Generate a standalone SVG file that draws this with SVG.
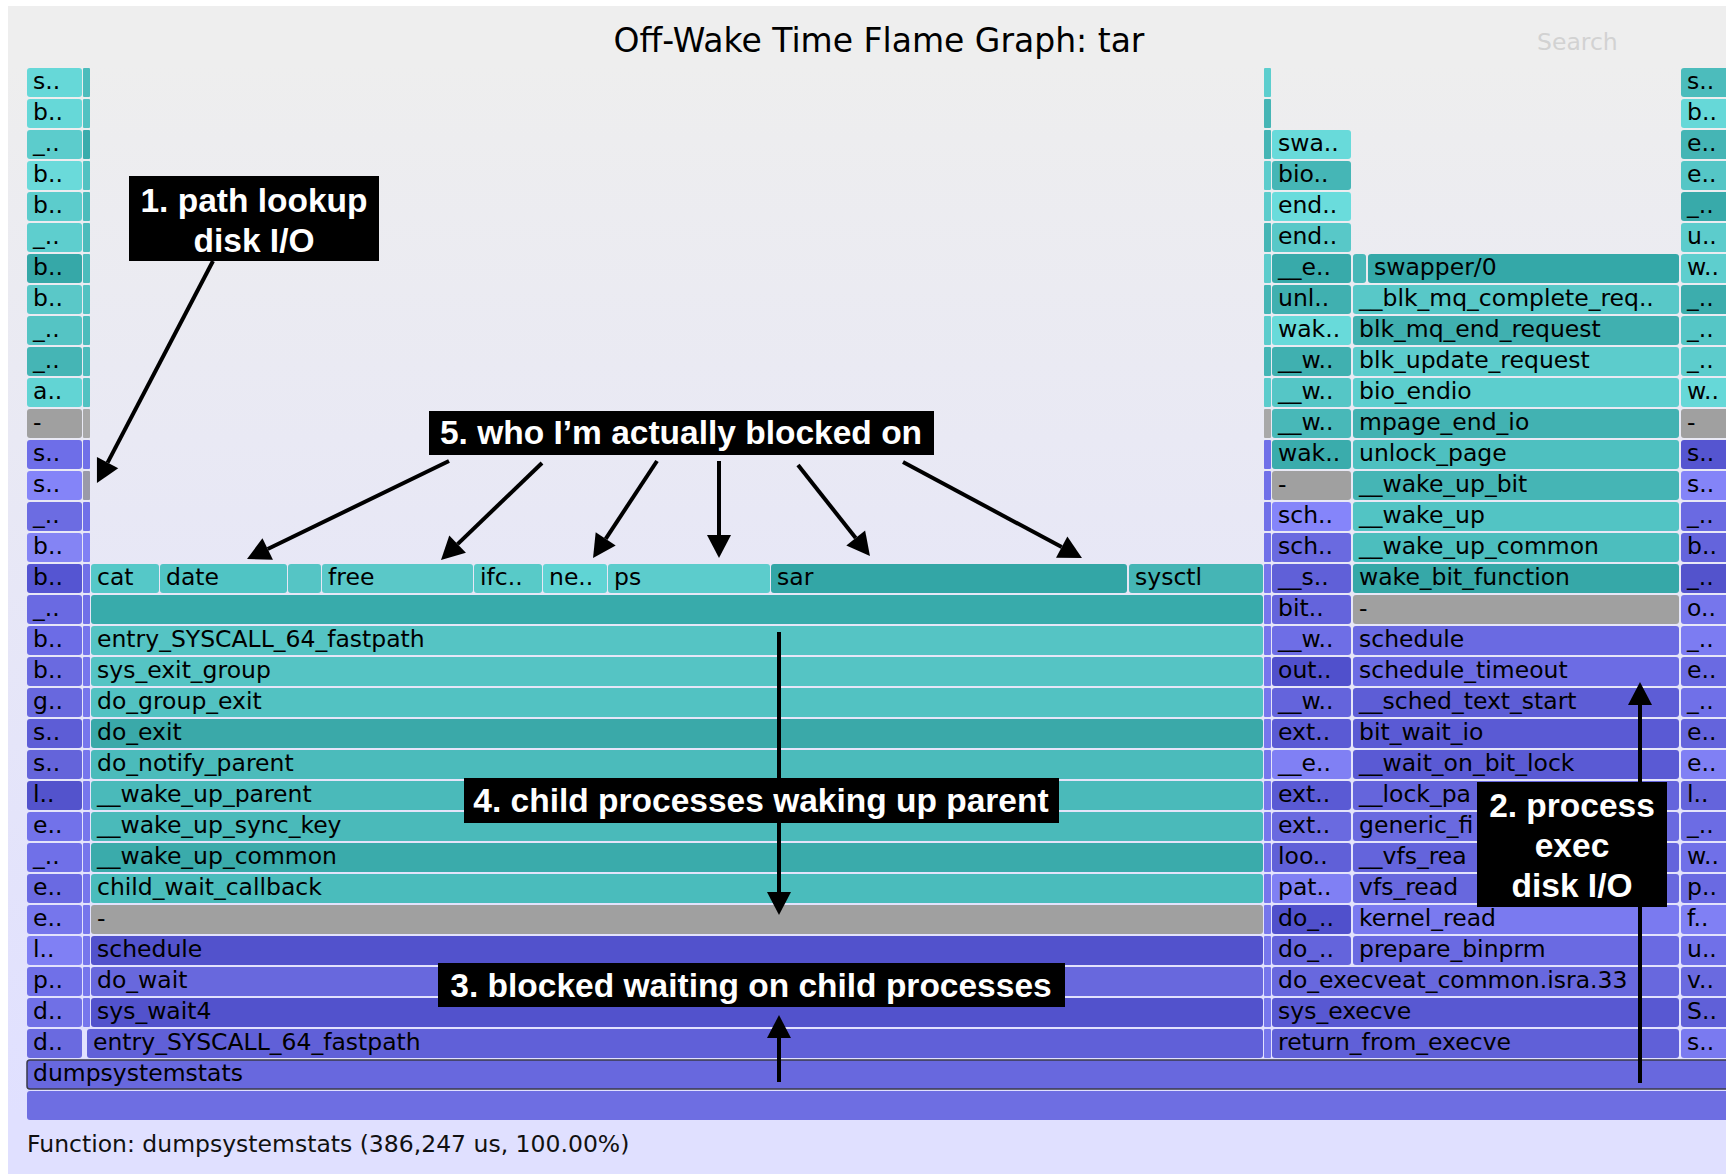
<svg xmlns="http://www.w3.org/2000/svg" width="1726" height="1174" viewBox="0 0 1726 1174">
<defs>
  <linearGradient id="bg" x1="0" y1="0" x2="0" y2="1">
    <stop offset="5%" stop-color="#eeeeee"/>
    <stop offset="95%" stop-color="#e0e0ff"/>
  </linearGradient>
  <marker id="ah" markerUnits="userSpaceOnUse" markerWidth="24" markerHeight="24" refX="0" refY="12" orient="auto" overflow="visible">
    <path d="M0,0 L23,12 L0,24 Z" fill="#000"/>
  </marker>
  <style>
    .fl rect { rx: 3px; ry: 3px; }
    .fl text { font-family: "DejaVu Sans", Verdana, sans-serif; font-size: 23.5px; fill: #000; }
    .strip rect { rx: 1px; ry: 1px; }
    .title { font-family: "DejaVu Sans", Verdana, sans-serif; font-size: 33px; fill: #000; text-anchor: middle; }
    .search { font-family: "DejaVu Sans", Verdana, sans-serif; font-size: 23.5px; fill: #d2d2d2; }
    .details { font-family: "DejaVu Sans", Verdana, sans-serif; font-size: 23.5px; fill: #111; }
    .note rect { fill: #000; }
    .note text { font-family: "Liberation Sans", Arial, Helvetica, sans-serif; font-weight: bold; font-size: 33.5px; fill: #fff; text-anchor: middle; }
    .arrows line { stroke: #000; stroke-width: 4; marker-end: url(#ah); }
  </style>
</defs>

<!-- canvas -->
<rect x="0" y="0" width="1726" height="1174" fill="#ffffff"/>
<rect x="8" y="6" width="1718" height="1168" fill="url(#bg)"/>
<text class="title" x="879" y="52">Off-Wake Time Flame Graph: tar</text>
<text class="search" x="1537" y="50">Search</text>
<text class="details" x="27" y="1152">Function: dumpsystemstats (386,247 us, 100.00%)</text>

<!-- thin slivers between the columns -->
<g id="slivers" class="strip">
  <rect x="83" y="68" width="7" height="29" fill="#4cbcbc"/>
  <rect x="83" y="99" width="7" height="29" fill="#52c2c2"/>
  <rect x="83" y="130" width="7" height="29" fill="#3aacac"/>
  <rect x="83" y="161" width="7" height="29" fill="#52c2c2"/>
  <rect x="83" y="192" width="7" height="29" fill="#4cbcbc"/>
  <rect x="83" y="223" width="7" height="29" fill="#4cbcbc"/>
  <rect x="83" y="254" width="7" height="29" fill="#4cbcbc"/>
  <rect x="83" y="285" width="7" height="29" fill="#52c2c2"/>
  <rect x="83" y="316" width="7" height="29" fill="#4cbcbc"/>
  <rect x="83" y="347" width="7" height="29" fill="#4cbcbc"/>
  <rect x="83" y="378" width="7" height="29" fill="#52c2c2"/>
  <rect x="83" y="409" width="7" height="29" fill="#a8a8a8"/>
  <rect x="83" y="440" width="7" height="29" fill="#7070e8"/>
  <rect x="83" y="471" width="7" height="29" fill="#9a9aa8"/>
  <rect x="83" y="502" width="7" height="29" fill="#7070e8"/>
  <rect x="83" y="533" width="7" height="29" fill="#8080f4"/>
  <rect x="83" y="564" width="7" height="29" fill="#7070e8"/>
  <rect x="83" y="595" width="7" height="29" fill="#7070e8"/>
  <rect x="83" y="626" width="7" height="29" fill="#7676ec"/>
  <rect x="83" y="657" width="7" height="29" fill="#7676ec"/>
  <rect x="83" y="688" width="7" height="29" fill="#7676ec"/>
  <rect x="83" y="719" width="7" height="29" fill="#7676ec"/>
  <rect x="83" y="750" width="7" height="29" fill="#7676ec"/>
  <rect x="83" y="781" width="7" height="29" fill="#7676ec"/>
  <rect x="83" y="812" width="7" height="29" fill="#7676ec"/>
  <rect x="83" y="843" width="7" height="29" fill="#7676ec"/>
  <rect x="83" y="874" width="7" height="29" fill="#7676ec"/>
  <rect x="83" y="905" width="7" height="29" fill="#7676ec"/>
  <rect x="83" y="936" width="7" height="29" fill="#7676ec"/>
  <rect x="83" y="967" width="7" height="29" fill="#7676ec"/>
  <rect x="83" y="998" width="7" height="29" fill="#7676ec"/>
  <rect x="1264" y="68" width="7" height="29" fill="#5ccece"/>
  <rect x="1264" y="99" width="7" height="29" fill="#45b5b5"/>
  <rect x="1264" y="130" width="7" height="29" fill="#45b5b5"/>
  <rect x="1264" y="161" width="7" height="29" fill="#5ccccc"/>
  <rect x="1264" y="192" width="7" height="29" fill="#5ccccc"/>
  <rect x="1264" y="223" width="7" height="29" fill="#45b5b5"/>
  <rect x="1264" y="254" width="7" height="29" fill="#5ccccc"/>
  <rect x="1264" y="285" width="7" height="29" fill="#45b5b5"/>
  <rect x="1264" y="316" width="7" height="29" fill="#5ccccc"/>
  <rect x="1264" y="347" width="7" height="29" fill="#45b5b5"/>
  <rect x="1264" y="378" width="7" height="29" fill="#5ccccc"/>
  <rect x="1264" y="409" width="7" height="29" fill="#a8a8a8"/>
  <rect x="1264" y="440" width="7" height="29" fill="#7070e8"/>
  <rect x="1264" y="471" width="7" height="29" fill="#7070e8"/>
  <rect x="1264" y="502" width="7" height="29" fill="#7070e8"/>
  <rect x="1264" y="533" width="7" height="29" fill="#7070e8"/>
  <rect x="1264" y="564" width="7" height="29" fill="#7676ec"/>
  <rect x="1264" y="595" width="7" height="29" fill="#7676ec"/>
  <rect x="1264" y="626" width="7" height="29" fill="#7676ec"/>
  <rect x="1264" y="657" width="7" height="29" fill="#7676ec"/>
  <rect x="1264" y="688" width="7" height="29" fill="#7676ec"/>
  <rect x="1264" y="719" width="7" height="29" fill="#7676ec"/>
  <rect x="1264" y="750" width="7" height="29" fill="#7676ec"/>
  <rect x="1264" y="781" width="7" height="29" fill="#7676ec"/>
  <rect x="1264" y="812" width="7" height="29" fill="#7676ec"/>
  <rect x="1264" y="843" width="7" height="29" fill="#7676ec"/>
  <rect x="1264" y="874" width="7" height="29" fill="#7676ec"/>
  <rect x="1264" y="905" width="7" height="29" fill="#7676ec"/>
  <rect x="1264" y="936" width="7" height="29" fill="#7676ec"/>
  <rect x="1264" y="967" width="7" height="29" fill="#7676ec"/>
  <rect x="1264" y="998" width="7" height="29" fill="#7676ec"/>
  <rect x="1264" y="1029" width="7" height="29" fill="#7676ec"/>
</g>

<!-- left narrow column -->
<g class="fl">
  <g id="a00"><rect x="27" y="68" width="55" height="29" fill="#66d8d8"/><text x="33" y="89">s..</text></g>
  <g id="a01"><rect x="27" y="99" width="55" height="29" fill="#66d8d8"/><text x="33" y="120">b..</text></g>
  <g id="a02"><rect x="27" y="130" width="55" height="29" fill="#5ccccc"/><text x="33" y="151">_..</text></g>
  <g id="a03"><rect x="27" y="161" width="55" height="29" fill="#6adada"/><text x="33" y="182">b..</text></g>
  <g id="a04"><rect x="27" y="192" width="55" height="29" fill="#5ccccc"/><text x="33" y="213">b..</text></g>
  <g id="a05"><rect x="27" y="223" width="55" height="29" fill="#5ecece"/><text x="33" y="244">_..</text></g>
  <g id="a06"><rect x="27" y="254" width="55" height="29" fill="#36a8a8"/><text x="33" y="275">b..</text></g>
  <g id="a07"><rect x="27" y="285" width="55" height="29" fill="#5ac8c8"/><text x="33" y="306">b..</text></g>
  <g id="a08"><rect x="27" y="316" width="55" height="29" fill="#55c4c4"/><text x="33" y="337">_..</text></g>
  <g id="a09"><rect x="27" y="347" width="55" height="29" fill="#45b5b5"/><text x="33" y="368">_..</text></g>
  <g id="a10"><rect x="27" y="378" width="55" height="29" fill="#62d4d4"/><text x="33" y="399">a..</text></g>
  <g id="a11"><rect x="27" y="409" width="55" height="29" fill="#a0a0a0"/><text x="33" y="430">-</text></g>
  <g id="a12"><rect x="27" y="440" width="55" height="29" fill="#6e6ee8"/><text x="33" y="461">s..</text></g>
  <g id="a13"><rect x="27" y="471" width="55" height="29" fill="#8484f8"/><text x="33" y="492">s..</text></g>
  <g id="a14"><rect x="27" y="502" width="55" height="29" fill="#6c6ce2"/><text x="33" y="523">_..</text></g>
  <g id="a15"><rect x="27" y="533" width="55" height="29" fill="#8484f4"/><text x="33" y="554">b..</text></g>
  <g id="a16"><rect x="27" y="564" width="55" height="29" fill="#5555d2"/><text x="33" y="585">b..</text></g>
  <g id="a17"><rect x="27" y="595" width="55" height="29" fill="#6a6ae2"/><text x="33" y="616">_..</text></g>
  <g id="a18"><rect x="27" y="626" width="55" height="29" fill="#6c6ce6"/><text x="33" y="647">b..</text></g>
  <g id="a19"><rect x="27" y="657" width="55" height="29" fill="#6a6ae0"/><text x="33" y="678">b..</text></g>
  <g id="a20"><rect x="27" y="688" width="55" height="29" fill="#6868de"/><text x="33" y="709">g..</text></g>
  <g id="a21"><rect x="27" y="719" width="55" height="29" fill="#5d5dd6"/><text x="33" y="740">s..</text></g>
  <g id="a22"><rect x="27" y="750" width="55" height="29" fill="#6464da"/><text x="33" y="771">s..</text></g>
  <g id="a23"><rect x="27" y="781" width="55" height="29" fill="#5353cc"/><text x="33" y="802">l..</text></g>
  <g id="a24"><rect x="27" y="812" width="55" height="29" fill="#7272ea"/><text x="33" y="833">e..</text></g>
  <g id="a25"><rect x="27" y="843" width="55" height="29" fill="#7070e8"/><text x="33" y="864">_..</text></g>
  <g id="a26"><rect x="27" y="874" width="55" height="29" fill="#6a6ae2"/><text x="33" y="895">e..</text></g>
  <g id="a27"><rect x="27" y="905" width="55" height="29" fill="#7676ec"/><text x="33" y="926">e..</text></g>
  <g id="a28"><rect x="27" y="936" width="55" height="29" fill="#8080f4"/><text x="33" y="957">l..</text></g>
  <g id="a29"><rect x="27" y="967" width="55" height="29" fill="#7070e8"/><text x="33" y="988">p..</text></g>
  <g id="a30"><rect x="27" y="998" width="55" height="29" fill="#7070e6"/><text x="33" y="1019">d..</text></g>
  <g id="a31"><rect x="27" y="1029" width="55" height="29" fill="#6a6ae0"/><text x="33" y="1050">d..</text></g>
</g>

<!-- main wide column -->
<g class="fl">
  <g id="m16-cat"><rect x="91" y="564" width="68" height="29" fill="#55c8c8"/><text x="97" y="585">cat</text></g>
  <g id="m16-date"><rect x="160" y="564" width="127" height="29" fill="#50c4c4"/><text x="166" y="585">date</text></g>
  <g id="m16-x"><rect x="288" y="564" width="33" height="29" fill="#55c5c5"/></g>
  <g id="m16-free"><rect x="322" y="564" width="151" height="29" fill="#5ac8c8"/><text x="328" y="585">free</text></g>
  <g id="m16-ifc"><rect x="474" y="564" width="68" height="29" fill="#58cac8"/><text x="480" y="585">ifc..</text></g>
  <g id="m16-ne"><rect x="543" y="564" width="64" height="29" fill="#60d4d4"/><text x="549" y="585">ne..</text></g>
  <g id="m16-ps"><rect x="608" y="564" width="162" height="29" fill="#5ccccc"/><text x="614" y="585">ps</text></g>
  <g id="m16-sar"><rect x="771" y="564" width="356" height="29" fill="#33a6a6"/><text x="777" y="585">sar</text></g>
  <g id="m16-sysctl"><rect x="1129" y="564" width="134" height="29" fill="#45b5b5"/><text x="1135" y="585">sysctl</text></g>
  <g id="m17"><rect x="91" y="595" width="1172" height="29" fill="#38abab"/></g>
  <g id="m18"><rect x="91" y="626" width="1172" height="29" fill="#55c4c4"/><text x="97" y="647">entry_SYSCALL_64_fastpath</text></g>
  <g id="m19"><rect x="91" y="657" width="1172" height="29" fill="#55c4c4"/><text x="97" y="678">sys_exit_group</text></g>
  <g id="m20"><rect x="91" y="688" width="1172" height="29" fill="#52c2c2"/><text x="97" y="709">do_group_exit</text></g>
  <g id="m21"><rect x="91" y="719" width="1172" height="29" fill="#3aa9a9"/><text x="97" y="740">do_exit</text></g>
  <g id="m22"><rect x="91" y="750" width="1172" height="29" fill="#4bbbbb"/><text x="97" y="771">do_notify_parent</text></g>
  <g id="m23"><rect x="91" y="781" width="1172" height="29" fill="#4ababa"/><text x="97" y="802">__wake_up_parent</text></g>
  <g id="m24"><rect x="91" y="812" width="1172" height="29" fill="#4ababa"/><text x="97" y="833">__wake_up_sync_key</text></g>
  <g id="m25"><rect x="91" y="843" width="1172" height="29" fill="#3aabab"/><text x="97" y="864">__wake_up_common</text></g>
  <g id="m26"><rect x="91" y="874" width="1172" height="29" fill="#4abcbc"/><text x="97" y="895">child_wait_callback</text></g>
  <g id="m27"><rect x="91" y="905" width="1172" height="29" fill="#a0a0a0"/><text x="97" y="926">-</text></g>
  <g id="m28"><rect x="91" y="936" width="1172" height="29" fill="#5252cc"/><text x="97" y="957">schedule</text></g>
  <g id="m29"><rect x="91" y="967" width="1172" height="29" fill="#6868dd"/><text x="97" y="988">do_wait</text></g>
  <g id="m30"><rect x="91" y="998" width="1172" height="29" fill="#5252cc"/><text x="97" y="1019">sys_wait4</text></g>
  <g id="m31"><rect x="87" y="1029" width="1176" height="29" fill="#6060d8"/><text x="93" y="1050">entry_SYSCALL_64_fastpath</text></g>
</g>

<!-- second narrow column -->
<g class="fl">
  <g id="b02"><rect x="1272" y="130" width="79" height="29" fill="#68dada"/><text x="1278" y="151">swa..</text></g>
  <g id="b03"><rect x="1272" y="161" width="79" height="29" fill="#45b6b6"/><text x="1278" y="182">bio..</text></g>
  <g id="b04"><rect x="1272" y="192" width="79" height="29" fill="#6adcdc"/><text x="1278" y="213">end..</text></g>
  <g id="b05"><rect x="1272" y="223" width="79" height="29" fill="#58c8c8"/><text x="1278" y="244">end..</text></g>
  <g id="b06"><rect x="1272" y="254" width="79" height="29" fill="#38aaaa"/><text x="1278" y="275">__e..</text></g>
  <g id="b07"><rect x="1272" y="285" width="79" height="29" fill="#40b0b0"/><text x="1278" y="306">unl..</text></g>
  <g id="b08"><rect x="1272" y="316" width="79" height="29" fill="#68dada"/><text x="1278" y="337">wak..</text></g>
  <g id="b09"><rect x="1272" y="347" width="79" height="29" fill="#40b0b0"/><text x="1278" y="368">__w..</text></g>
  <g id="b10"><rect x="1272" y="378" width="79" height="29" fill="#55c6c6"/><text x="1278" y="399">__w..</text></g>
  <g id="b11"><rect x="1272" y="409" width="79" height="29" fill="#48b8b8"/><text x="1278" y="430">__w..</text></g>
  <g id="b12"><rect x="1272" y="440" width="79" height="29" fill="#3aacac"/><text x="1278" y="461">wak..</text></g>
  <g id="b13"><rect x="1272" y="471" width="79" height="29" fill="#a0a0a0"/><text x="1278" y="492">-</text></g>
  <g id="b14"><rect x="1272" y="502" width="79" height="29" fill="#8585fa"/><text x="1278" y="523">sch..</text></g>
  <g id="b15"><rect x="1272" y="533" width="79" height="29" fill="#6a6ae0"/><text x="1278" y="554">sch..</text></g>
  <g id="b16"><rect x="1272" y="564" width="79" height="29" fill="#6060d8"/><text x="1278" y="585">__s..</text></g>
  <g id="b17"><rect x="1272" y="595" width="79" height="29" fill="#6464dc"/><text x="1278" y="616">bit..</text></g>
  <g id="b18"><rect x="1272" y="626" width="79" height="29" fill="#6e6ee6"/><text x="1278" y="647">__w..</text></g>
  <g id="b19"><rect x="1272" y="657" width="79" height="29" fill="#5050cc"/><text x="1278" y="678">out..</text></g>
  <g id="b20"><rect x="1272" y="688" width="79" height="29" fill="#6464dc"/><text x="1278" y="709">__w..</text></g>
  <g id="b21"><rect x="1272" y="719" width="79" height="29" fill="#5a5ad4"/><text x="1278" y="740">ext..</text></g>
  <g id="b22"><rect x="1272" y="750" width="79" height="29" fill="#8080f4"/><text x="1278" y="771">__e..</text></g>
  <g id="b23"><rect x="1272" y="781" width="79" height="29" fill="#5a5ad4"/><text x="1278" y="802">ext..</text></g>
  <g id="b24"><rect x="1272" y="812" width="79" height="29" fill="#6a6ae0"/><text x="1278" y="833">ext..</text></g>
  <g id="b25"><rect x="1272" y="843" width="79" height="29" fill="#6060d8"/><text x="1278" y="864">loo..</text></g>
  <g id="b26"><rect x="1272" y="874" width="79" height="29" fill="#8080f4"/><text x="1278" y="895">pat..</text></g>
  <g id="b27"><rect x="1272" y="905" width="79" height="29" fill="#5050cc"/><text x="1278" y="926">do_..</text></g>
  <g id="b28"><rect x="1272" y="936" width="79" height="29" fill="#6464dc"/><text x="1278" y="957">do_..</text></g>
  <g id="bc29"><rect x="1272" y="967" width="407" height="29" fill="#6868de"/><text x="1278" y="988">do_execveat_common.isra.33</text></g>
  <g id="bc30"><rect x="1272" y="998" width="407" height="29" fill="#5858d2"/><text x="1278" y="1019">sys_execve</text></g>
  <g id="bc31"><rect x="1272" y="1029" width="407" height="29" fill="#6060d8"/><text x="1278" y="1050">return_from_execve</text></g>
</g>

<!-- wide right-of-centre column -->
<g class="fl">
  <g id="c06s"><rect x="1353" y="254" width="13" height="29" fill="#48b8b8"/></g>
  <g id="c06"><rect x="1368" y="254" width="311" height="29" fill="#34a8a8"/><text x="1374" y="275">swapper/0</text></g>
  <g id="c07"><rect x="1353" y="285" width="326" height="29" fill="#58c8c8"/><text x="1359" y="306">__blk_mq_complete_req..</text></g>
  <g id="c08"><rect x="1353" y="316" width="326" height="29" fill="#40b0b0"/><text x="1359" y="337">blk_mq_end_request</text></g>
  <g id="c09"><rect x="1353" y="347" width="326" height="29" fill="#5ccccc"/><text x="1359" y="368">blk_update_request</text></g>
  <g id="c10"><rect x="1353" y="378" width="326" height="29" fill="#5ccece"/><text x="1359" y="399">bio_endio</text></g>
  <g id="c11"><rect x="1353" y="409" width="326" height="29" fill="#42b2b2"/><text x="1359" y="430">mpage_end_io</text></g>
  <g id="c12"><rect x="1353" y="440" width="326" height="29" fill="#4ec0c0"/><text x="1359" y="461">unlock_page</text></g>
  <g id="c13"><rect x="1353" y="471" width="326" height="29" fill="#45b5b5"/><text x="1359" y="492">__wake_up_bit</text></g>
  <g id="c14"><rect x="1353" y="502" width="326" height="29" fill="#52c4c4"/><text x="1359" y="523">__wake_up</text></g>
  <g id="c15"><rect x="1353" y="533" width="326" height="29" fill="#4cbebe"/><text x="1359" y="554">__wake_up_common</text></g>
  <g id="c16"><rect x="1353" y="564" width="326" height="29" fill="#36a8a8"/><text x="1359" y="585">wake_bit_function</text></g>
  <g id="c17"><rect x="1353" y="595" width="326" height="29" fill="#a0a0a0"/><text x="1359" y="616">-</text></g>
  <g id="c18"><rect x="1353" y="626" width="326" height="29" fill="#6a6ae2"/><text x="1359" y="647">schedule</text></g>
  <g id="c19"><rect x="1353" y="657" width="326" height="29" fill="#6c6ce4"/><text x="1359" y="678">schedule_timeout</text></g>
  <g id="c20"><rect x="1353" y="688" width="326" height="29" fill="#5d5dd6"/><text x="1359" y="709">__sched_text_start</text></g>
  <g id="c21"><rect x="1353" y="719" width="326" height="29" fill="#5a5ad4"/><text x="1359" y="740">bit_wait_io</text></g>
  <g id="c22"><rect x="1353" y="750" width="326" height="29" fill="#5a5ad4"/><text x="1359" y="771">__wait_on_bit_lock</text></g>
  <g id="c23"><rect x="1353" y="781" width="326" height="29" fill="#6565dc"/><text x="1359" y="802">__lock_pa</text></g>
  <g id="c24"><rect x="1353" y="812" width="326" height="29" fill="#6a6ae0"/><text x="1359" y="833">generic_fi</text></g>
  <g id="c25"><rect x="1353" y="843" width="326" height="29" fill="#6464dc"/><text x="1359" y="864">__vfs_rea</text></g>
  <g id="c26"><rect x="1353" y="874" width="326" height="29" fill="#6868de"/><text x="1359" y="895">vfs_read</text></g>
  <g id="c27"><rect x="1353" y="905" width="326" height="29" fill="#7a7af0"/><text x="1359" y="926">kernel_read</text></g>
  <g id="c28"><rect x="1353" y="936" width="326" height="29" fill="#6a6ae2"/><text x="1359" y="957">prepare_binprm</text></g>
</g>

<!-- far right column -->
<g class="fl">
  <g id="d00"><rect x="1681" y="68" width="60" height="29" fill="#4cbcbc"/><text x="1687" y="89">s..</text></g>
  <g id="d01"><rect x="1681" y="99" width="60" height="29" fill="#66d8d8"/><text x="1687" y="120">b..</text></g>
  <g id="d02"><rect x="1681" y="130" width="60" height="29" fill="#45b5b5"/><text x="1687" y="151">e..</text></g>
  <g id="d03"><rect x="1681" y="161" width="60" height="29" fill="#55c6c6"/><text x="1687" y="182">e..</text></g>
  <g id="d04"><rect x="1681" y="192" width="60" height="29" fill="#38aaaa"/><text x="1687" y="213">_..</text></g>
  <g id="d05"><rect x="1681" y="223" width="60" height="29" fill="#5ccccc"/><text x="1687" y="244">u..</text></g>
  <g id="d06"><rect x="1681" y="254" width="60" height="29" fill="#5ecece"/><text x="1687" y="275">w..</text></g>
  <g id="d07"><rect x="1681" y="285" width="60" height="29" fill="#3cadad"/><text x="1687" y="306">_..</text></g>
  <g id="d08"><rect x="1681" y="316" width="60" height="29" fill="#55c6c6"/><text x="1687" y="337">_..</text></g>
  <g id="d09"><rect x="1681" y="347" width="60" height="29" fill="#5ccccc"/><text x="1687" y="368">_..</text></g>
  <g id="d10"><rect x="1681" y="378" width="60" height="29" fill="#66d8d8"/><text x="1687" y="399">w..</text></g>
  <g id="d11"><rect x="1681" y="409" width="60" height="29" fill="#a0a0a0"/><text x="1687" y="430">-</text></g>
  <g id="d12"><rect x="1681" y="440" width="60" height="29" fill="#5555d0"/><text x="1687" y="461">s..</text></g>
  <g id="d13"><rect x="1681" y="471" width="60" height="29" fill="#8484f8"/><text x="1687" y="492">s..</text></g>
  <g id="d14"><rect x="1681" y="502" width="60" height="29" fill="#6a6ae2"/><text x="1687" y="523">_..</text></g>
  <g id="d15"><rect x="1681" y="533" width="60" height="29" fill="#6464dc"/><text x="1687" y="554">b..</text></g>
  <g id="d16"><rect x="1681" y="564" width="60" height="29" fill="#5353cc"/><text x="1687" y="585">_..</text></g>
  <g id="d17"><rect x="1681" y="595" width="60" height="29" fill="#7676ec"/><text x="1687" y="616">o..</text></g>
  <g id="d18"><rect x="1681" y="626" width="60" height="29" fill="#7c7cf2"/><text x="1687" y="647">_..</text></g>
  <g id="d19"><rect x="1681" y="657" width="60" height="29" fill="#6a6ae2"/><text x="1687" y="678">e..</text></g>
  <g id="d20"><rect x="1681" y="688" width="60" height="29" fill="#7070e8"/><text x="1687" y="709">_..</text></g>
  <g id="d21"><rect x="1681" y="719" width="60" height="29" fill="#6464dc"/><text x="1687" y="740">e..</text></g>
  <g id="d22"><rect x="1681" y="750" width="60" height="29" fill="#8080f4"/><text x="1687" y="771">e..</text></g>
  <g id="d23"><rect x="1681" y="781" width="60" height="29" fill="#6464dc"/><text x="1687" y="802">l..</text></g>
  <g id="d24"><rect x="1681" y="812" width="60" height="29" fill="#6c6ce4"/><text x="1687" y="833">_..</text></g>
  <g id="d25"><rect x="1681" y="843" width="60" height="29" fill="#7070e8"/><text x="1687" y="864">w..</text></g>
  <g id="d26"><rect x="1681" y="874" width="60" height="29" fill="#6a6ae2"/><text x="1687" y="895">p..</text></g>
  <g id="d27"><rect x="1681" y="905" width="60" height="29" fill="#8080f4"/><text x="1687" y="926">f..</text></g>
  <g id="d28"><rect x="1681" y="936" width="60" height="29" fill="#7070e8"/><text x="1687" y="957">u..</text></g>
  <g id="d29"><rect x="1681" y="967" width="60" height="29" fill="#6a6ae0"/><text x="1687" y="988">v..</text></g>
  <g id="d30"><rect x="1681" y="998" width="60" height="29" fill="#6060d8"/><text x="1687" y="1019">S..</text></g>
  <g id="d31"><rect x="1681" y="1029" width="60" height="29" fill="#7a7af0"/><text x="1687" y="1050">s..</text></g>
</g>

<!-- root frames -->
<g class="fl">
  <g id="root-dumpsystemstats"><rect x="27" y="1060" width="1730" height="29" fill="#6868de" stroke="#3a3a4a" stroke-width="1.5"/><text x="33" y="1081">dumpsystemstats</text></g>
  <g id="root-all"><rect x="27" y="1091" width="1730" height="29" fill="#6e6ee2"/></g>
</g>

<!-- arrows -->
<g id="connectors" class="arrows">
  <line x1="213" y1="261" x2="107.6" y2="462.6"/>
  <line x1="1640" y1="1083" x2="1640" y2="705"/>
  <line x1="779" y1="1082" x2="779" y2="1038"/>
  <line x1="779" y1="632" x2="779" y2="892"/>
  <line x1="449" y1="461" x2="267.7" y2="549"/>
  <line x1="542" y1="463" x2="457.6" y2="544.1"/>
  <line x1="657" y1="461" x2="605.7" y2="538.8"/>
  <line x1="719" y1="461" x2="719" y2="535"/>
  <line x1="798" y1="465" x2="855.7" y2="538"/>
  <line x1="903" y1="462" x2="1061.7" y2="547.1"/>
</g>

<!-- callout boxes -->
<g class="note">
  <g id="note-1"><rect x="129" y="176" width="250" height="85"/><text x="254" y="212">1. path lookup</text><text x="254" y="252">disk I/O</text></g>
  <g id="note-2"><rect x="1477" y="782" width="190" height="125"/><text x="1572" y="817">2. process</text><text x="1572" y="857">exec</text><text x="1572" y="897">disk I/O</text></g>
  <g id="note-3"><rect x="438" y="963" width="627" height="44"/><text x="751" y="997">3. blocked waiting on child processes</text></g>
  <g id="note-4"><rect x="464" y="778" width="595" height="45"/><text x="761" y="812">4. child processes waking up parent</text></g>
  <g id="note-5"><rect x="429" y="411" width="505" height="44"/><text x="681" y="444">5. who I’m actually blocked on</text></g>
</g>
</svg>
